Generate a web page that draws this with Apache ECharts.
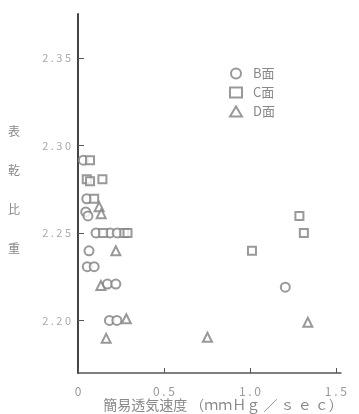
<!DOCTYPE html>
<html><head><meta charset="utf-8">
<script src="https://cdn.jsdelivr.net/npm/echarts@6/dist/echarts.min.js"></script>
<style>html,body{margin:0;padding:0;background:#fff}#c{width:359px;height:414px}</style>
</head><body><div id="c"></div>
<script>
// data: [x (mmHg/sec), y (表乾比重)]
const seriesNames = ['B面', 'C面', 'D面'];
const faceB = [[0.031,2.2915],[0.051,2.2695],[0.045,2.262],[0.058,2.2597],[0.105,2.25],[0.187,2.25],[0.228,2.25],[0.064,2.2398],[0.054,2.2307],[0.094,2.2307],[0.171,2.2208],[0.22,2.2208],[0.183,2.2],[0.226,2.2],[1.206,2.219]];
const faceC = [[0.07,2.2915],[0.051,2.2807],[0.07,2.2795],[0.142,2.2807],[0.094,2.2695],[0.146,2.25],[0.269,2.25],[0.288,2.25],[1.288,2.2597],[1.314,2.25],[1.012,2.2398]];
const faceD = [[0.123,2.265],[0.135,2.261],[0.22,2.2398],[0.133,2.22],[0.281,2.201],[0.164,2.1898],[0.753,2.1904],[1.337,2.199]];
const xTicks = [0, 0.5, 1.0, 1.5];
const xTickLabels = ['0', '0 . 5', '1 . 0', '1 . 5'];
const yTicks = [2.20, 2.25, 2.30, 2.35];
const yTickLabels = ['2 . 2 0', '2 . 2 5', '2 . 3 0', '2 . 3 5'];

const chart = echarts.init(document.getElementById('c'));
const markColor = '#808080';
const font = '"Noto Sans CJK JP", "Noto Sans", sans-serif';
function mk(name, data, symbol, size) {
  return { name, type: 'scatter', data, symbol, symbolSize: size,
    itemStyle: { color: markColor, borderWidth: 1 }, z: 3 };
}
chart.setOption({
  animation: false,
  grid: { left: 78, right: 18, top: 14, bottom: 41, containLabel: false, outerBoundsMode: 'none' },
  legend: {
    orient: 'vertical', left: 224, top: 62, itemGap: 6, itemWidth: 12, itemHeight: 10,
    textStyle: { color: '#888', fontSize: 13, fontFamily: font, padding: [0,0,0,6] },
    data: seriesNames
  },
  xAxis: {
    type: 'value', min: 0, max: 1.53,
    name: '簡易透気速度 （ｍｍＨｇ ／ ｓ ｅ ｃ）', nameLocation: 'middle', nameGap: 25, nameMoveOverlap: false,
    nameTextStyle: { color: '#888', fontSize: 14, fontFamily: font, align: 'center', padding: [0,0,0,27] },
    axisLine: { show: true, lineStyle: { color: '#555', width: 1.5 } },
    axisTick: { show: true, inside: true, length: 5, customValues: xTicks, lineStyle: { color: '#555' } },
    axisLabel: { customValues: xTicks, color: '#999', fontSize: 12, fontFamily: font, margin: 12,
      formatter: v => xTickLabels[xTicks.findIndex(t => Math.abs(t - v) < 1e-6)] ?? '' },
    splitLine: { show: false }
  },
  yAxis: {
    type: 'value', min: 2.17, max: 2.375,
    name: '表\n\n乾\n\n比\n\n重\n{s|}', nameLocation: 'middle', nameGap: 58, nameRotate: 0, nameMoveOverlap: false,
    nameTextStyle: { color: '#888', fontSize: 12, fontFamily: font, lineHeight: 19.5, rich: { s: { lineHeight: 8, fontSize: 6 } } },
    axisLine: { show: true, lineStyle: { color: '#444', width: 2 } },
    axisTick: { show: true, inside: true, length: 6, customValues: yTicks, lineStyle: { color: '#555' } },
    axisLabel: { customValues: yTicks, color: '#aaa', fontSize: 11, fontFamily: font, margin: 7,
      formatter: v => yTickLabels[yTicks.findIndex(t => Math.abs(t - v) < 1e-6)] ?? '' },
    splitLine: { show: false }
  },
  series: [
    mk(seriesNames[0], faceB, 'emptyCircle', 9),
    mk(seriesNames[1], faceC, 'emptyRect', 8),
    mk(seriesNames[2], faceD, 'emptyTriangle', 9)
  ]
});
</script></body></html>
